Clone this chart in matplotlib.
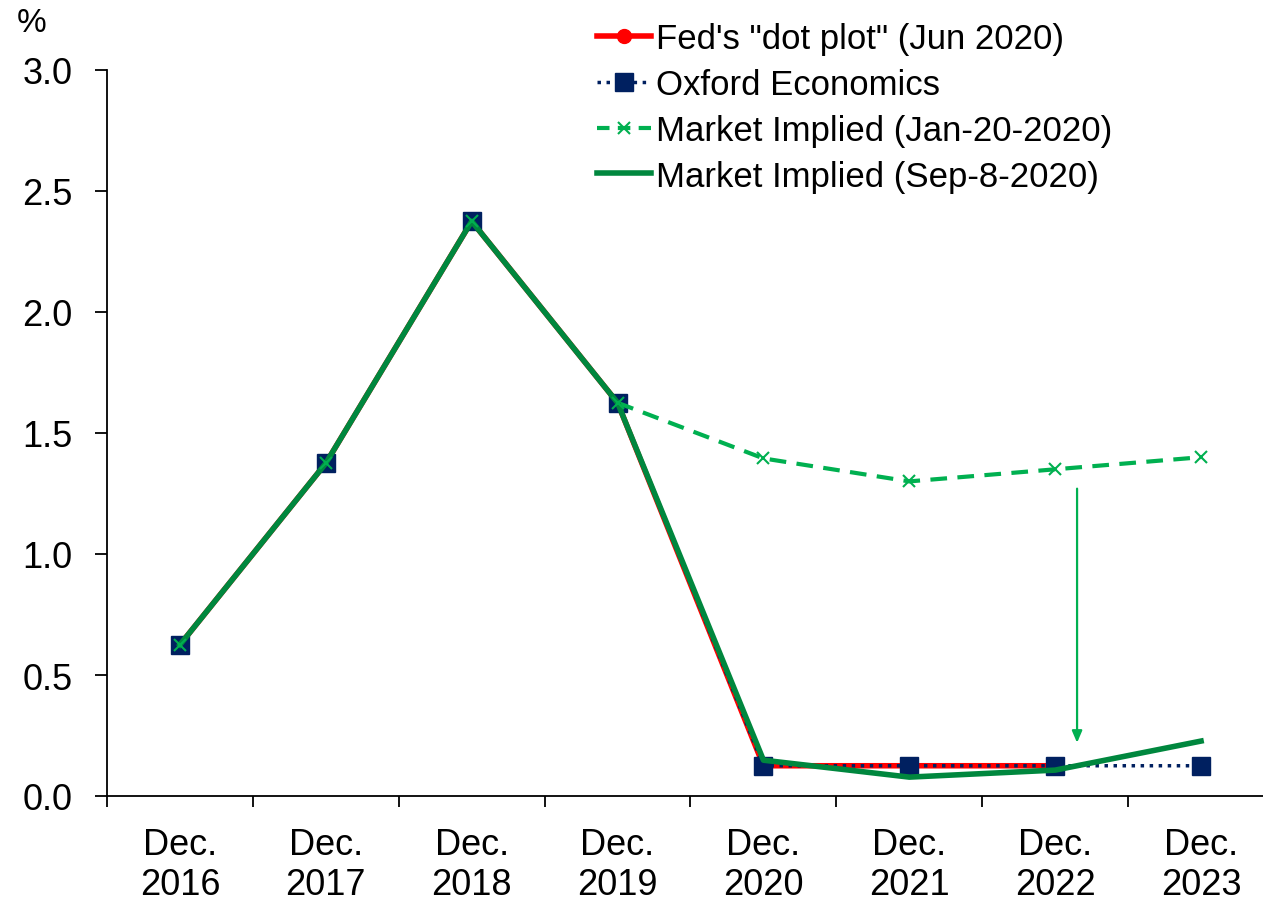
import numpy as np
import matplotlib
matplotlib.use("Agg")
import matplotlib.pyplot as plt
from matplotlib.lines import Line2D

plt.rcParams['font.family'] = ['Liberation Sans', 'DejaVu Sans']

categories = ["Dec.\n2016", "Dec.\n2017", "Dec.\n2018", "Dec.\n2019",
              "Dec.\n2020", "Dec.\n2021", "Dec.\n2022", "Dec.\n2023"]
fed_dot_plot = [0.625, 1.375, 2.375, 1.625, 0.125, 0.125, 0.125, np.nan]
oxford = [0.625, 1.375, 2.375, 1.625, 0.125, 0.125, 0.125, 0.125]
market_jan20 = [0.625, 1.375, 2.375, 1.625, 1.395, 1.30, 1.35, 1.40]
market_sep8 = [0.625, 1.375, 2.375, 1.625, 0.148, 0.078, 0.107, 0.227]
arrow_x = 6.15
arrow_from, arrow_to = 1.27, 0.22

RED = "#FF0000"
NAVY = "#002060"
LGREEN = "#00B050"
DGREEN = "#00873E"

fig = plt.figure(figsize=(12.63, 9.03), dpi=100)
W, H = 1263, 903
left, right, top, bottom = 107, 1274, 71, 797
ax = fig.add_axes([left / W, 1 - bottom / H, (right - left) / W, (bottom - top) / H])

x = np.arange(len(categories))

ax.plot(x, fed_dot_plot, color=RED, lw=4, marker='o', ms=10, zorder=2)
ax.plot(x, oxford, color=NAVY, lw=2.5, ls=(0, (1, 1.6)), marker='s', ms=12.5,
        mfc=NAVY, mec=NAVY, zorder=3)
# Jan-20: solid part for history, dashed for projection
ax.plot(x[:4], market_jan20[:4], color=LGREEN, lw=3, zorder=4)
ax.plot(x[3:], market_jan20[3:], color=LGREEN, lw=3, ls=(0, (4, 2.5)), zorder=4)
ax.plot(x, market_jan20, color=LGREEN, lw=0, marker='x', ms=9, mew=1.5, zorder=6)
ax.plot(x, market_sep8, color=DGREEN, lw=4, zorder=5)

ax.annotate("", xy=(arrow_x, arrow_to), xytext=(arrow_x, arrow_from),
            arrowprops=dict(arrowstyle="-|>,head_length=0.7,head_width=0.3",
                            color=LGREEN, lw=1.6, shrinkA=0, shrinkB=0), zorder=7)

ax.set_xlim(-0.5, 7.5)
ax.set_ylim(0, 3.0)
ax.set_yticks(np.arange(0, 3.01, 0.5))
ax.set_yticklabels([f"{v:.1f}" for v in np.arange(0, 3.01, 0.5)], fontsize=26)
ax.set_xticks(x)
ax.set_xticklabels(categories, fontsize=26, linespacing=1.22)
ax.set_xticks(np.arange(-0.5, 7.6, 1), minor=True)
ax.tick_params(axis='x', which='major', length=0, pad=22)
ax.tick_params(axis='x', which='minor', length=8, width=1.3, direction='out')
ax.tick_params(axis='y', which='major', length=9, width=1.3, direction='out', pad=16)
for s in ['top', 'right']:
    ax.spines[s].set_visible(False)
for s in ['left', 'bottom']:
    ax.spines[s].set_linewidth(1.3)

fig.text(17 / W, 1 - 24 / H, "%", fontsize=24, va='center', ha='left')

handles = [
    Line2D([], [], color=RED, lw=4, marker='o', ms=10),
    Line2D([], [], color=NAVY, lw=2.5, ls=(0, (1, 1.6)), marker='s', ms=12.5),
    Line2D([], [], color=LGREEN, lw=3, ls=(0, (3, 2)), marker='x', ms=9, mew=1.5),
    Line2D([], [], color=DGREEN, lw=4),
]
labels = ["Fed's \"dot plot\" (Jun 2020)", "Oxford Economics",
          "Market Implied (Jan-20-2020)", "Market Implied (Sep-8-2020)"]
fig.legend(handles, labels, loc='upper left', bbox_to_anchor=(597 / W, 1 - 23 / H),
           frameon=False, fontsize=25, handlelength=1.55, handletextpad=0.15,
           labelspacing=0.37, borderaxespad=0, borderpad=0)

fig.savefig("out.png", dpi=100)
